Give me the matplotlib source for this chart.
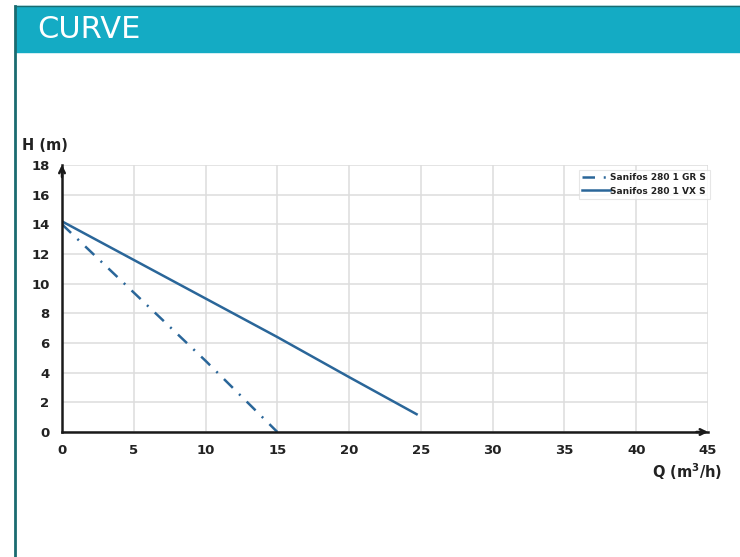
import matplotlib.pyplot as plt
from matplotlib.patches import Rectangle
from matplotlib.lines import Line2D

# data
q_vx = [0, 5, 10, 15, 20, 24.7]
h_vx = [14.2, 11.6, 9.0, 6.4, 3.7, 1.2]
q_gr = [0, 5, 10, 15]
h_gr = [14.0, 9.4, 4.8, 0.0]
labels = ['Sanifos 280 1 GR S', 'Sanifos 280 1 VX S']
xticks = [0, 5, 10, 15, 20, 25, 30, 35, 40, 45]
yticks = [0, 2, 4, 6, 8, 10, 12, 14, 16, 18]

plt.rcParams['font.family'] = ['DejaVu Sans']
blue = '#2a6699'
ink = '#222222'

fig = plt.figure(figsize=(7.4, 5.57), dpi=100)

# header band and frame
fig.patches.append(Rectangle((16/740, 1-52/557), 1, 46/557, transform=fig.transFigure,
                             color='#14abc4', zorder=0))
fig.add_artist(Line2D([15/740, 15/740], [0, 1-6/557], color='#1a6b70', lw=2))
fig.add_artist(Line2D([15/740, 1], [1-6/557, 1-6/557], color='#1a6b70', lw=1))
fig.text(37/740, 1-30/557, 'CURVE', color='white', fontsize=22, va='center', ha='left')

ax = fig.add_axes([62/740, 1-432/557, (708-62)/740, (432-165)/557])
ax.plot(q_gr, h_gr, color=blue, lw=1.8, dashes=[5, 3.5, 0.8, 3.5], dash_capstyle='butt',
        label=labels[0])
ax.plot(q_vx, h_vx, color=blue, lw=1.8, label=labels[1])

ax.set_xlim(0, 45)
ax.set_ylim(0, 18)
ax.set_xticks(xticks)
ax.set_yticks(yticks)
ax.grid(True, color='#dddddd', lw=1.1)
ax.set_axisbelow(True)
for s in ['top', 'right']:
    ax.spines[s].set_visible(False)
for s in ['left', 'bottom']:
    ax.spines[s].set_linewidth(1.8)
    ax.spines[s].set_color('#1a1a1a')
ax.tick_params(length=0, labelsize=9.5, pad=9)
for t in ax.get_xticklabels() + ax.get_yticklabels():
    t.set_fontweight('bold')
    t.set_color(ink)

# axis arrows
ax.annotate('', xy=(0, 18.2), xytext=(0, 17.0), xycoords='data',
            arrowprops=dict(arrowstyle='->', color='#1a1a1a', lw=1.8), annotation_clip=False)
ax.annotate('', xy=(45.2, 0), xytext=(44, 0), xycoords='data',
            arrowprops=dict(arrowstyle='->', color='#1a1a1a', lw=1.8), annotation_clip=False)

fig.text(22/740, 1-146/557, 'H (m)', fontsize=10.5, fontweight='bold', va='center', color=ink)
fig.text(722/740, 1-472/557, 'Q (m$^\\mathbf{3}$/h)', fontsize=10.5, fontweight='bold',
         va='center', ha='right', color=ink)

leg = ax.legend(loc='upper right', bbox_to_anchor=(1.01, 1.0), handlelength=3,
                frameon=True, fancybox=False, edgecolor='#e0e0e0', borderpad=0.4,
                labelspacing=0.5, handletextpad=0.1, prop={'weight': 'bold', 'size': 6.5})
leg.get_frame().set_linewidth(0.8)
for t in leg.get_texts():
    t.set_color(ink)

fig.savefig('out.png', dpi=100)
